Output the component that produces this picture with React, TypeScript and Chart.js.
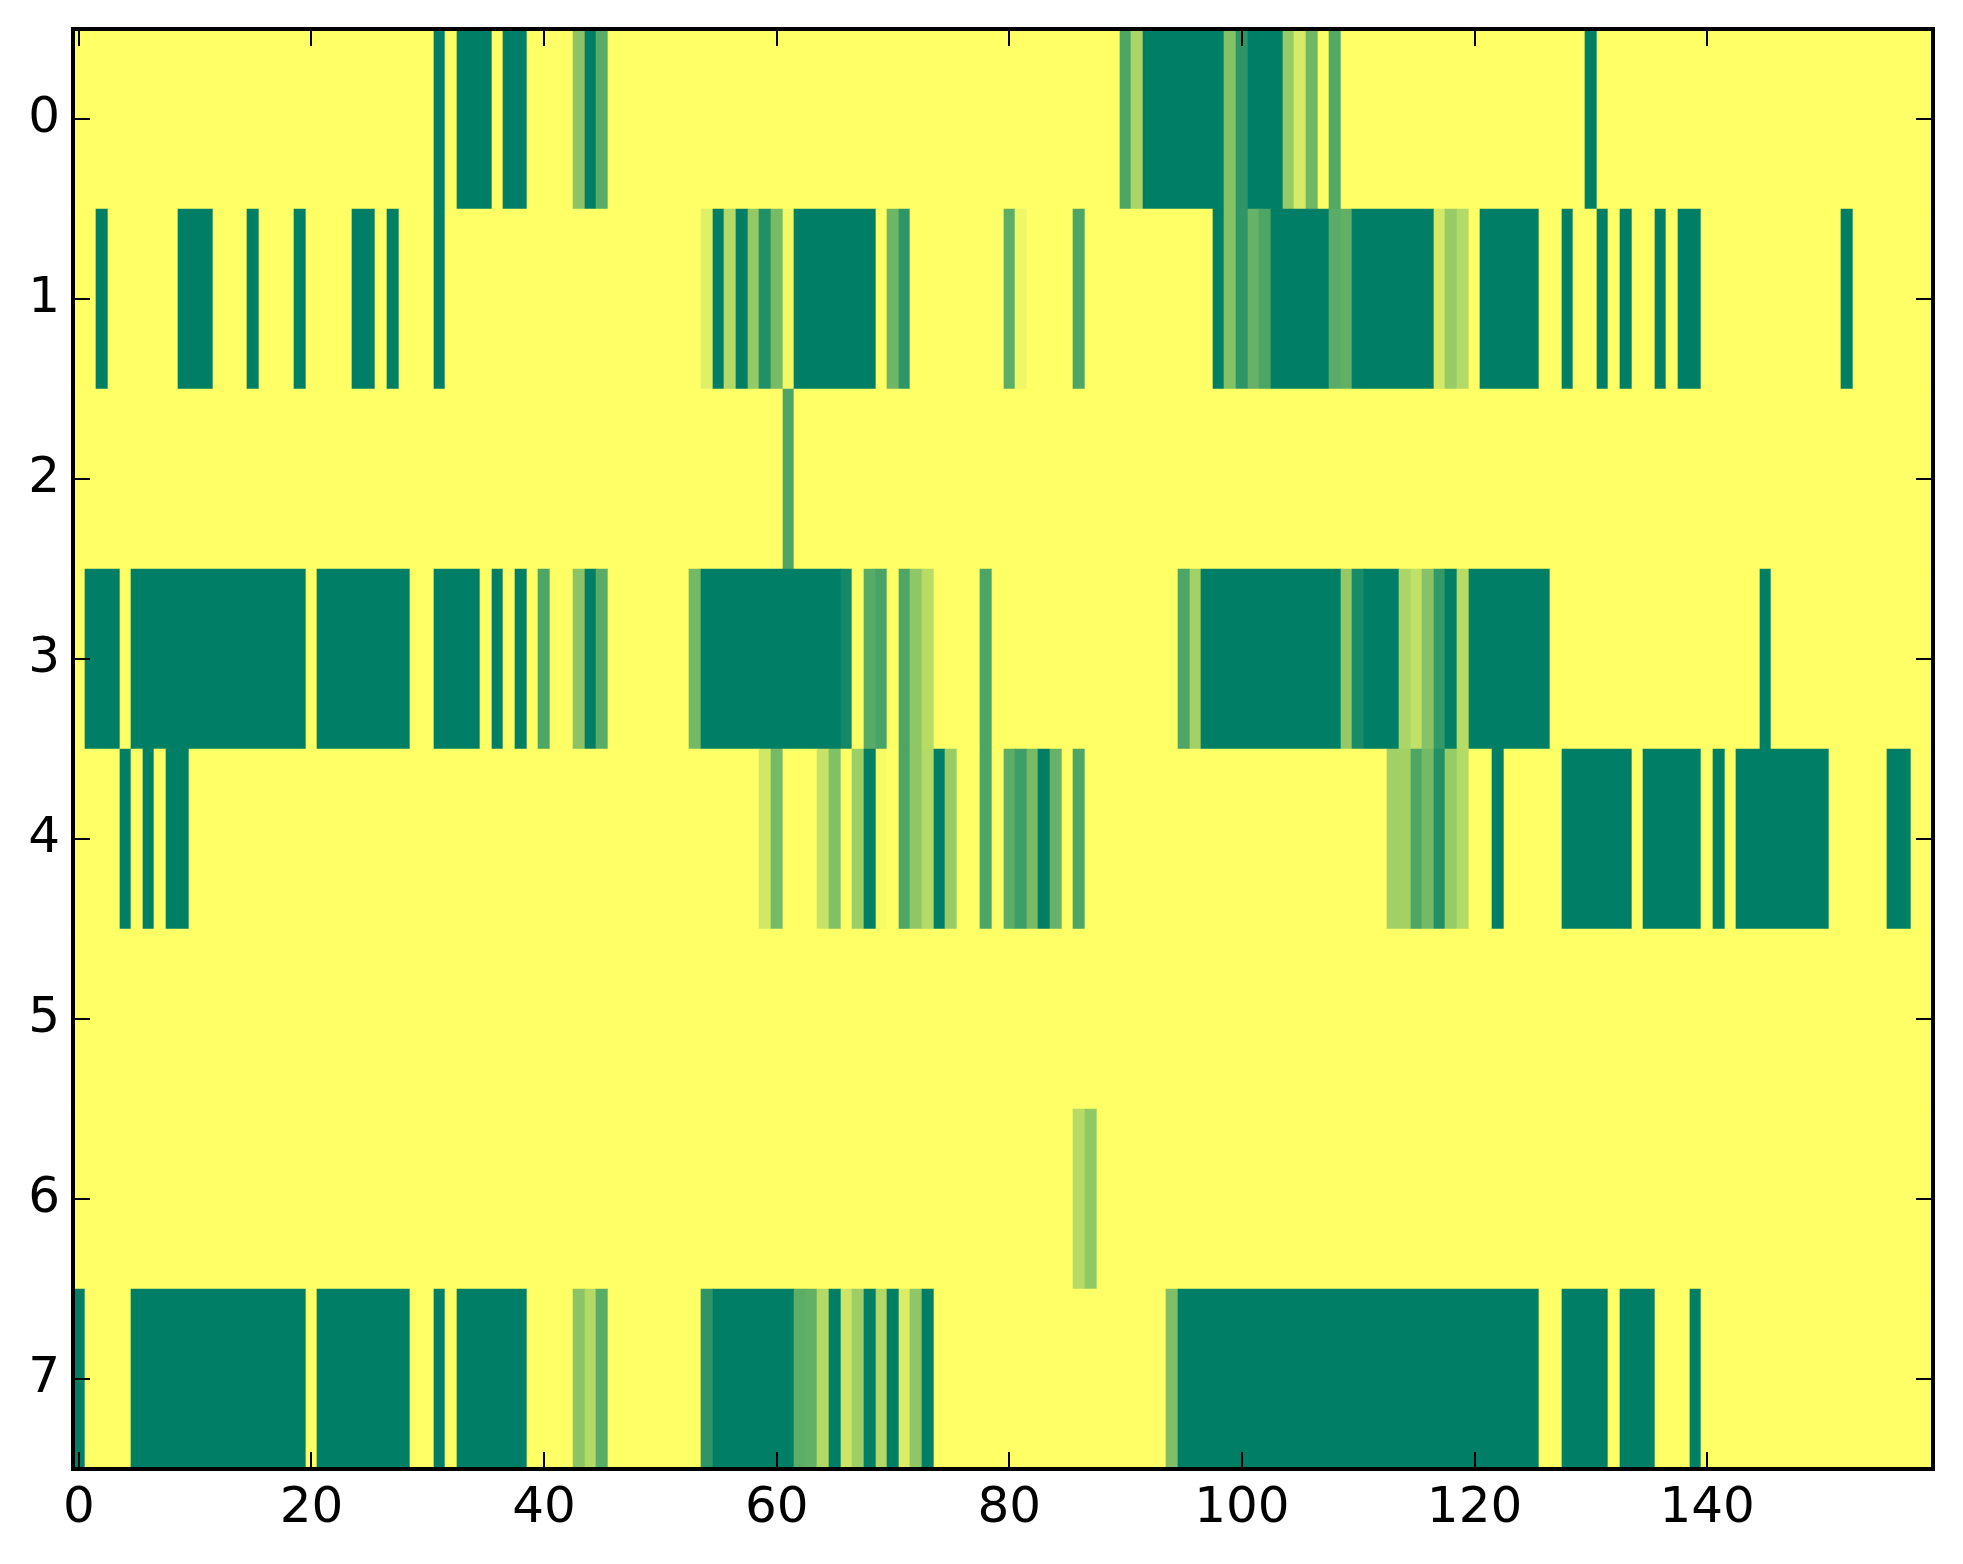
import React, { useEffect, useRef } from "react";
import { Chart, registerables } from "chart.js";

Chart.register(...registerables);

type Run = [number, number, number];

const columnCount = 160;
const rowLabels = [0, 1, 2, 3, 4, 5, 6, 7];
const xTicks = [0, 20, 40, 60, 80, 100, 120, 140];

// Non-zero cells of each row: [first column, last column, value 0..1]
const row0: Run[] = [
  [31, 31, 1], [33, 35, 1], [37, 38, 1], [43, 43, 0.46], [44, 44, 1], [45, 45, 0.65],
  [90, 90, 0.7], [91, 91, 0.33], [92, 98, 1], [99, 99, 0.48], [100, 100, 0.82], [101, 103, 1],
  [104, 104, 0.41], [105, 105, 0.16], [106, 106, 0.56], [108, 108, 0.68], [130, 130, 1],
];
const row1: Run[] = [
  [2, 2, 1], [9, 11, 1], [15, 15, 1], [19, 19, 1], [24, 25, 1], [27, 27, 1], [31, 31, 1],
  [54, 54, 0.12], [55, 55, 1], [56, 56, 0.3], [57, 57, 1], [58, 58, 0.42], [59, 59, 0.87],
  [60, 60, 0.53], [61, 61, 0.05], [62, 68, 1], [70, 70, 0.57], [71, 71, 0.82],
  [80, 80, 0.64], [81, 81, 0.06], [86, 86, 0.7], [98, 98, 1], [99, 99, 0.48], [100, 100, 0.82],
  [101, 101, 0.6], [102, 102, 0.7], [103, 107, 1], [108, 108, 0.65], [109, 109, 0.62],
  [110, 116, 1], [117, 117, 0.17], [118, 118, 0.41], [119, 119, 0.3], [121, 125, 1],
  [128, 128, 1], [131, 131, 1], [133, 133, 1], [136, 136, 1], [138, 139, 1], [152, 152, 1],
];
const row2: Run[] = [[61, 61, 0.7]];
const row3: Run[] = [
  [1, 3, 1], [5, 19, 1], [21, 28, 1], [31, 34, 1], [36, 36, 1], [38, 38, 1], [40, 40, 0.7],
  [43, 43, 0.46], [44, 44, 1], [45, 45, 0.65], [53, 53, 0.55], [54, 65, 1], [66, 66, 0.92],
  [68, 68, 0.66], [69, 69, 0.72], [71, 71, 0.7], [72, 72, 0.44], [73, 73, 0.28], [78, 78, 0.7],
  [95, 95, 0.7], [96, 96, 0.36], [97, 108, 1], [109, 109, 0.42], [110, 110, 0.9], [111, 113, 1],
  [114, 114, 0.33], [115, 115, 0.24], [116, 116, 0.47], [117, 117, 0.8], [118, 118, 1],
  [119, 119, 0.28], [120, 126, 1], [145, 145, 1],
];
const row4: Run[] = [
  [4, 4, 1], [6, 6, 1], [8, 9, 1], [59, 59, 0.18], [60, 60, 0.54], [64, 64, 0.22], [65, 65, 0.49],
  [67, 67, 0.38], [68, 68, 1], [69, 69, 0.03], [71, 71, 0.7], [72, 72, 0.44], [73, 73, 0.3],
  [74, 74, 1], [75, 75, 0.4], [78, 78, 0.7], [80, 80, 0.64], [81, 81, 0.76], [82, 82, 0.53],
  [83, 83, 1], [84, 84, 0.6], [86, 86, 0.7], [113, 113, 0.37], [114, 114, 0.36], [115, 115, 0.7],
  [116, 116, 0.55], [117, 117, 0.87], [118, 118, 0.41], [119, 119, 0.3], [122, 122, 1],
  [128, 133, 1], [135, 139, 1], [141, 141, 1], [143, 150, 1], [156, 157, 1],
];
const row5: Run[] = [];
const row6: Run[] = [[86, 86, 0.29], [87, 87, 0.43]];
const row7: Run[] = [
  [0, 0, 1], [5, 19, 1], [21, 28, 1], [31, 31, 1], [33, 38, 1], [43, 43, 0.46], [44, 44, 0.3],
  [45, 45, 0.65], [54, 54, 0.82], [55, 61, 1], [62, 62, 0.64], [63, 63, 0.62], [64, 64, 0.3],
  [65, 65, 1], [66, 66, 0.2], [67, 67, 0.38], [68, 68, 1], [69, 69, 0.3], [70, 70, 1],
  [71, 71, 0.14], [72, 72, 0.44], [73, 73, 1], [94, 94, 0.5], [95, 125, 1], [128, 131, 1],
  [133, 135, 1], [139, 139, 1],
];
const rows = [row0, row1, row2, row3, row4, row5, row6, row7];

// matplotlib's summer_r colour map
const cellColor = (v: number) => {
  const t = 1 - v;
  return `rgb(${Math.round(255 * t)},${Math.round(127 + 128 * t)},102)`;
};

// Each row becomes its runs plus the zero-valued gaps between them.
const barData: { x: [number, number]; y: number; v: number }[] = [];
rows.forEach((runs, y) => {
  let next = 0;
  runs.forEach(([a, b, v]) => {
    if (a > next) barData.push({ x: [next - 0.5, a - 0.5], y, v: 0 });
    barData.push({ x: [a - 0.5, b + 0.5], y, v });
    next = b + 1;
  });
  if (next < columnCount) barData.push({ x: [next - 0.5, columnCount - 0.5], y, v: 0 });
});

const PLOT = { left: 73, right: 1934, top: 29, bottom: 1469 };
const TICK_LEN = 17;

const snapBars = {
  id: "snapBars",
  beforeDatasetsDraw(chart: any) {
    chart.getDatasetMeta(0).data.forEach((el: any) => {
      el.x = Math.round(el.x);
      el.base = Math.round(el.base);
      const top = Math.round(el.y - el.height / 2);
      const bottom = Math.round(el.y + el.height / 2);
      el.y = (top + bottom) / 2;
      el.height = bottom - top;
    });
  },
};

const frameAndTicks = {
  id: "frameAndTicks",
  afterDatasetsDraw(chart: any) {
    const { ctx, chartArea: a, scales } = chart;
    const right = a.right - 1;
    ctx.save();
    ctx.strokeStyle = "#000";
    ctx.lineWidth = 2;
    ctx.beginPath();
    scales.x.ticks.forEach((t: any) => {
      const px = Math.round(scales.x.getPixelForValue(t.value));
      ctx.moveTo(px, a.top);
      ctx.lineTo(px, a.top + TICK_LEN);
      ctx.moveTo(px, a.bottom);
      ctx.lineTo(px, a.bottom - TICK_LEN);
    });
    scales.y.ticks.forEach((t: any) => {
      const py = Math.round(scales.y.getPixelForValue(t.value));
      ctx.moveTo(a.left, py);
      ctx.lineTo(a.left + TICK_LEN, py);
      ctx.moveTo(right, py);
      ctx.lineTo(right - TICK_LEN, py);
    });
    ctx.stroke();
    ctx.lineWidth = 4;
    ctx.strokeRect(a.left, a.top, right - a.left, a.bottom - a.top);
    ctx.restore();
  },
};

export default function App() {
  const ref = useRef<HTMLCanvasElement>(null);

  useEffect(() => {
    const chart = new Chart(ref.current as HTMLCanvasElement, {
      type: "bar",
      data: {
        labels: rowLabels,
        datasets: [
          {
            data: barData as any,
            backgroundColor: barData.map((d) => cellColor(d.v)),
            borderWidth: 0,
            barPercentage: 1,
            categoryPercentage: 1,
          },
        ],
      },
      plugins: [snapBars, frameAndTicks],
      options: {
        indexAxis: "y",
        responsive: false,
        animation: false,
        devicePixelRatio: 1,
        layout: {
          padding: { left: 0, top: PLOT.top, right: 1963 - PLOT.right, bottom: 0 },
        },
        plugins: { legend: { display: false }, tooltip: { enabled: false } },
        scales: {
          x: {
            type: "linear",
            min: -0.5,
            max: columnCount - 0.5,
            offset: false,
            grid: { display: false, drawTicks: false },
            border: { display: false },
            afterBuildTicks(scale: any) {
              scale.ticks = xTicks.map((value) => ({ value }));
            },
            ticks: {
              autoSkip: false,
              maxRotation: 0,
              padding: 10,
              color: "#000",
              font: { family: "DejaVu Sans", size: 50 },
            },
            afterFit(scale: any) {
              scale.height = 1564 - PLOT.bottom;
              scale.paddingLeft = 0;
              scale.paddingRight = 0;
            },
          },
          y: {
            type: "linear",
            reverse: true,
            min: -0.5,
            max: rowLabels.length - 0.5,
            offset: false,
            grid: { display: false, drawTicks: false, offset: false },
            border: { display: false },
            afterBuildTicks(scale: any) {
              scale.ticks = rowLabels.map((value) => ({ value }));
            },
            ticks: {
              autoSkip: false,
              padding: 13,
              color: "#000",
              font: { family: "DejaVu Sans", size: 50 },
            },
            afterFit(scale: any) {
              scale.width = PLOT.left;
              scale.paddingTop = 0;
              scale.paddingBottom = 0;
            },
          },
        },
      } as any,
    });
    return () => chart.destroy();
  }, []);

  return (
    <div style={{ position: "fixed", left: 0, top: 0, width: 1963, height: 1564, background: "#fff" }}>
      <canvas ref={ref} width={1963} height={1564} style={{ display: "block", width: 1963, height: 1564 }} />
    </div>
  );
}
